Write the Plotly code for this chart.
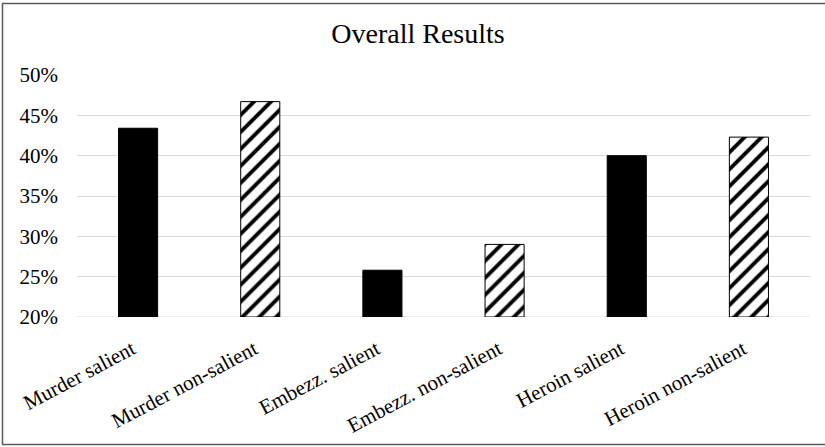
import plotly.graph_objects as go

# Share of respondents per condition
categories = [
    "Murder salient",
    "Murder non-salient",
    "Embezz. salient",
    "Embezz. non-salient",
    "Heroin salient",
    "Heroin non-salient",
]
values = [0.434, 0.467, 0.258, 0.290, 0.400, 0.423]
salient = [True, False, True, False, True, False]

tick_vals = [0.20, 0.25, 0.30, 0.35, 0.40, 0.45, 0.50]
tick_text = ["20%", "25%", "30%", "35%", "40%", "45%", "50%"]

AXIS_FLOOR = 0.20

W, H = 825, 447
ML, MR, MT, MB = 77, 15, 75, 130

pattern_shapes = ["" if s else "/" for s in salient]

fig = go.Figure(
    go.Bar(
        x=categories,
        y=[v - AXIS_FLOOR for v in values],
        base=AXIS_FLOOR,
        marker=dict(
            color="black",
            line=dict(color="black", width=1),
            pattern=dict(
                shape=pattern_shapes,
                bgcolor="white",
                size=12,
                solidity=0.32,
                fillmode="replace",
            ),
        ),
        width=0.32,
        hoverinfo="skip",
    )
)

font_family = "Liberation Serif, Times New Roman, serif"

fig.update_layout(
    width=W,
    height=H,
    margin=dict(l=ML, r=MR, t=MT, b=MB),
    paper_bgcolor="white",
    plot_bgcolor="white",
    showlegend=False,
    font=dict(family=font_family, size=21, color="black"),
    title=dict(
        text="Overall Results",
        x=418 / W,
        xanchor="center",
        y=1 - 33 / H,
        yanchor="middle",
        font=dict(family=font_family, size=28, color="black"),
    ),
    xaxis=dict(
        tickangle=-28,
        showgrid=False,
        showline=False,
        ticks="",
        ticklabelstandoff=15,
        ticklabelshift=-6,
        tickfont=dict(size=21),
        automargin=False,
    ),
    yaxis=dict(
        range=[0.2, 0.5],
        tickvals=tick_vals,
        ticktext=tick_text,
        showgrid=True,
        gridcolor="#d9d9d9",
        gridwidth=1,
        zeroline=False,
        showline=False,
        ticks="",
        ticklabelstandoff=18,
        tickfont=dict(size=21),
        automargin=False,
    ),
)

# baseline at 20%
fig.add_shape(
    type="line", xref="paper", yref="y",
    x0=0, x1=1, y0=AXIS_FLOOR, y1=AXIS_FLOOR,
    line=dict(color="#d9d9d9", width=1), layer="below",
)

# outer chart frame
pw = W - ML - MR
ph = H - MT - MB
def px_to_paper_x(px):
    return (px - ML) / pw
def px_to_paper_y(py):
    return (H - MB - py) / ph

fig.add_shape(
    type="rect", xref="paper", yref="paper",
    x0=px_to_paper_x(2.5), x1=px_to_paper_x(830),
    y0=px_to_paper_y(444.5), y1=px_to_paper_y(3.5),
    line=dict(color="#595959", width=1.5),
    fillcolor="rgba(0,0,0,0)",
)

fig.write_html("out.html")
